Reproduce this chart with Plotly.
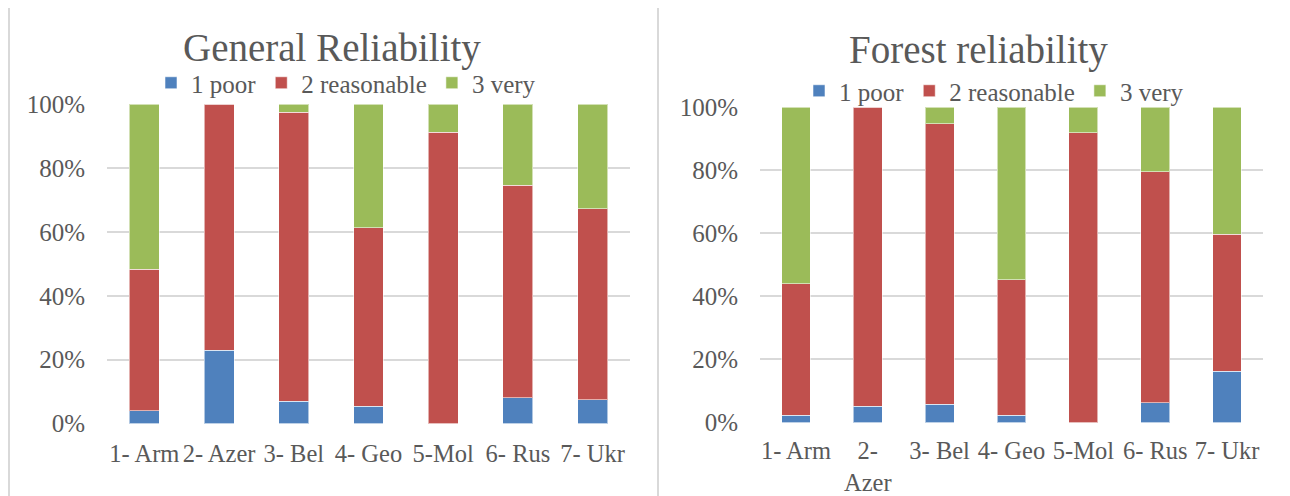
#!/usr/bin/env python
# -*- coding: utf-8 -*-

from plotly.graph_objects import Figure
from plotly.graph_objects import Bar

# the page body has an 8px margin, so the figure is drawn 8px smaller
# and every target pixel position is shifted by that offset
OFF = 8
W, H = 1290 - OFF, 496 - OFF

countries = ["1- Arm", "2- Azer", "3- Bel", "4- Geo", "5-Mol", "6- Rus", "7- Ukr"]
forest_ticks = ["1- Arm", "2-<br>Azer", "3- Bel", "4- Geo", "5-Mol", "6- Rus", "7- Ukr"]
series = ["1 poor", "2 reasonable", "3 very"]

general_poor = [0.040, 0.229, 0.069, 0.054, 0.0, 0.081, 0.074]
general_reasonable = [0.444, 0.771, 0.906, 0.559, 0.913, 0.666, 0.599]
general_very = [0.516, 0.0, 0.025, 0.387, 0.087, 0.253, 0.327]

forest_poor = [0.023, 0.052, 0.058, 0.023, 0.0, 0.063, 0.163]
forest_reasonable = [0.418, 0.948, 0.890, 0.430, 0.919, 0.732, 0.434]
forest_very = [0.559, 0.0, 0.052, 0.547, 0.081, 0.205, 0.403]

colors = ["#4F81BD", "#C0504D", "#9BBB59"]
FONT = "Liberation Serif"
TEXT = "#595959"
GRID = "#D9D9D9"


def px_x(v):
    return (v - OFF) / W


def px_y(v):
    return 1 - (v - OFF) / H


fig = Figure()
for name, vals, color in zip(series, [general_poor, general_reasonable, general_very], colors):
    fig.add_trace(
        Bar(
            x=countries, y=vals, name=name, marker_color=color,
            marker_line=dict(color="rgba(255,255,255,0.55)", width=1),
            xaxis="x", yaxis="y", legend="legend",
        )
    )
for name, vals, color in zip(series, [forest_poor, forest_reasonable, forest_very], colors):
    fig.add_trace(
        Bar(
            x=countries, y=vals, name=name, marker_color=color,
            marker_line=dict(color="rgba(255,255,255,0.55)", width=1),
            xaxis="x2", yaxis="y2", legend="legend2",
        )
    )

axis_font = dict(family=FONT, size=25, color=TEXT)
yaxis_common = dict(
    range=[0, 1.0001], dtick=0.2, tickformat=".0%", showgrid=True,
    gridcolor=GRID, gridwidth=2, zeroline=False, showline=False, automargin=False,
    tickfont=axis_font, ticklabelstandoff=21, fixedrange=True,
)
xaxis_common = dict(
    showgrid=False, zeroline=False, showline=False, automargin=False, tickangle=0,
    tickfont=dict(family=FONT, size=24.5, color=TEXT), fixedrange=True,
)

fig.update_layout(
    template="none",
    width=W, height=H,
    margin=dict(t=0, r=0, b=0, l=0, autoexpand=False),
    paper_bgcolor="white", plot_bgcolor="white",
    barmode="stack", bargap=0.6,
    font=dict(family=FONT, color=TEXT),
    xaxis=dict(domain=[px_x(107), px_x(630)], anchor="y", ticklabelstandoff=13, **xaxis_common),
    yaxis=dict(domain=[px_y(423.5), px_y(104.3)], anchor="x", **yaxis_common),
    xaxis2=dict(
        domain=[px_x(760), px_x(1263)], anchor="y2", ticklabelstandoff=11,
        tickmode="array", tickvals=countries, ticktext=forest_ticks, **xaxis_common,
    ),
    yaxis2=dict(domain=[px_y(422.5), px_y(107.3)], anchor="x2", **yaxis_common),
    legend=dict(
        orientation="h", x=px_x(346), y=px_y(83), xanchor="center", yanchor="middle",
        font=dict(family=FONT, size=25, color=TEXT), itemwidth=30, traceorder="normal",
        bgcolor="rgba(0,0,0,0)",
    ),
    legend2=dict(
        orientation="h", x=px_x(994), y=px_y(91), xanchor="center", yanchor="middle",
        font=dict(family=FONT, size=25, color=TEXT), itemwidth=30, traceorder="normal",
        bgcolor="rgba(0,0,0,0)",
    ),
    annotations=[
        dict(text="General Reliability", x=px_x(332), y=px_y(48), xref="paper", yref="paper",
             xanchor="center", yanchor="middle",
             showarrow=False, font=dict(family=FONT, size=39, color=TEXT)),
        dict(text="Forest reliability", x=px_x(978), y=px_y(50), xref="paper", yref="paper",
             xanchor="center", yanchor="middle",
             showarrow=False, font=dict(family=FONT, size=39, color=TEXT)),
    ],
    shapes=[
        dict(type="line", xref="paper", yref="paper", x0=0, x1=1.01, y0=px_y(6), y1=px_y(6),
             line=dict(color=GRID, width=2)),
        dict(type="line", xref="paper", yref="paper", x0=px_x(9), x1=px_x(9), y0=px_y(6), y1=-0.05,
             line=dict(color=GRID, width=2)),
        dict(type="line", xref="paper", yref="paper", x0=px_x(658), x1=px_x(658), y0=px_y(6), y1=-0.05,
             line=dict(color=GRID, width=2)),
    ],
)

fig.write_html("out.html")
